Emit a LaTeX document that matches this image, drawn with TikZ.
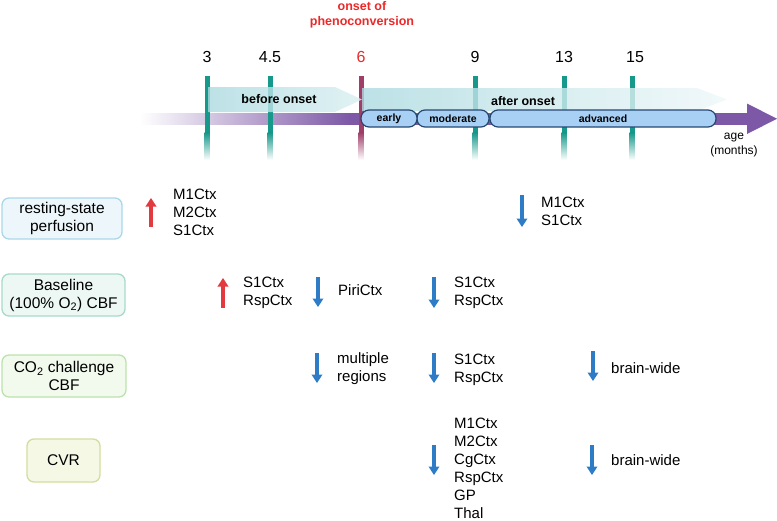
\documentclass[tikz,border=0pt]{standalone}
\usepackage{fontspec}
\setmainfont{Liberation Sans}
\usetikzlibrary{arrows.meta}

\definecolor{tickteal}{RGB}{22,152,138}
\definecolor{onsetred}{RGB}{236,40,40}
\definecolor{onsetmaroon}{RGB}{160,62,105}
\definecolor{bandteal}{RGB}{172,218,224}
\definecolor{agepurple}{RGB}{125,88,166}
\definecolor{pillblue}{RGB}{168,208,245}
\definecolor{pillnavy}{RGB}{38,72,112}
\definecolor{incred}{RGB}{226,58,62}
\definecolor{decblue}{RGB}{46,124,198}
\definecolor{restfill}{RGB}{237,247,251}
\definecolor{restline}{RGB}{170,216,232}
\definecolor{basefill}{RGB}{237,248,244}
\definecolor{baseline}{RGB}{168,218,200}
\definecolor{chalfill}{RGB}{242,249,237}
\definecolor{challine}{RGB}{188,226,172}
\definecolor{cvrfill}{RGB}{246,248,230}
\definecolor{cvrline}{RGB}{211,221,158}

\tikzset{
  rowbox/.style={draw, rounded corners=7pt, line width=1.3pt, align=center,
    inner sep=0pt, font=\fontsize{15.5}{18}\selectfont},
  regions/.style={anchor=west, align=left, inner sep=0pt, font=\fontsize{15}{18}\selectfont},
  pill/.style={draw=pillnavy, fill=pillblue, line width=1.2pt, rounded corners=8pt,
    minimum height=17pt, inner sep=0pt, font=\bfseries\fontsize{10.5}{12}\selectfont},
  incr/.style={incred, line width=3.2pt, -{Triangle[width=10.5pt,length=8.5pt]}},
  decr/.style={decblue, line width=3.2pt, -{Triangle[width=10.5pt,length=8.5pt]}},
  tickno/.style={font=\fontsize{16}{18}\selectfont}
}

\begin{document}
\begin{tikzpicture}[x=1pt, y=-1pt]
        \useasboundingbox (0,0) rectangle (777,520);

        % ----------------------------------------------------
        % asse dell'eta
        % ----------------------------------------------------
        \shade[left color=white, right color=agepurple] (140,113) rectangle (350,124.5);
        \fill[agepurple] (349,113) rectangle (748,124.5);
        \fill[agepurple] (747,103.5) -- (777,118.75) -- (747,134) -- cycle;

        % tacche
        \foreach \x/\c in {207/tickteal, 270/tickteal, 361/onsetmaroon, 475/tickteal, 564/tickteal, 632/tickteal} {
            \fill[\c] (\x-2.5,76) rectangle (\x+2.5,133);
            \shade[top color=\c, bottom color=white] (\x-2.5,132.5) rectangle (\x+2.5,160);
        }
        \foreach \x/\t [count=\i] in {207/3, 270/4.5, 475/9, 564/13, 635/15}
            \node[tickno] (month\i) at (\x,57) {\t};
        \node[tickno, onsetred] (month6) at (361,57) {6};
        \node[onsetred, align=center, font=\bfseries\fontsize{12.5}{14.5}\selectfont] (onset) at (362,15) {onset of\\phenoconversion};

        % fasce prima / dopo
        \shade[left color=bandteal, right color=bandteal!45, opacity=0.8]
            (208,87) -- (335,87) -- (362,99.5) -- (335,112) -- (208,112) -- cycle;
        \shade[left color=bandteal, right color=bandteal!20, opacity=0.8]
            (362,88) -- (697,88) -- (727,99.5) -- (697,111) -- (362,111) -- cycle;
        \node[font=\bfseries\fontsize{12.5}{14}\selectfont] (before) at (279,99) {before onset};
        \node[font=\bfseries\fontsize{12.5}{14}\selectfont] (after) at (523,101) {after onset};

        % stadi
        \node[pill, minimum width=226pt] (advanced) at (603,118.5) {advanced};
        \node[pill, minimum width=72pt] (moderate) at (453,118.5) {moderate};
        \node[pill, minimum width=56pt] (early) at (389,118.5) {early};

        \node[align=center, font=\fontsize{12}{15}\selectfont] (age) at (734,145) {age\\(months)};

        % ----------------------------------------------------
        % misure
        % ----------------------------------------------------
        \node[rowbox, draw=restline, fill=restfill, minimum width=120pt, minimum height=41pt] (rest) at (62,218.5) {resting-state\\perfusion};
        \node[rowbox, draw=baseline, fill=basefill, minimum width=123pt, minimum height=42pt] (base) at (63.5,295) {Baseline\\(100\% O\textsubscript{2}) CBF};
        \node[rowbox, draw=challine, fill=chalfill, minimum width=124pt, minimum height=42pt] (chal) at (64,376) {CO\textsubscript{2} challenge\\CBF};
        \node[rowbox, draw=cvrline, fill=cvrfill, minimum width=73pt, minimum height=43pt] (cvr) at (63.5,460.5) {CVR};

        % resting-state perfusion
        \draw[incr] (151,227) -- (151,198);
        \node[regions] (rest3) at (173,212) {M1Ctx\\M2Ctx\\S1Ctx};
        \draw[decr] (522,195) -- (522,227);
        \node[regions] (rest9) at (541,211) {M1Ctx\\S1Ctx};

        % baseline CBF
        \draw[incr] (223,308) -- (223,278);
        \node[regions] (base4) at (243,293) {S1Ctx\\RspCtx};
        \draw[decr] (318,277) -- (318,307);
        \node[regions] (base6) at (338,290) {PiriCtx};
        \draw[decr] (434,277) -- (434,308);
        \node[regions] (base9) at (454,293) {S1Ctx\\RspCtx};

        % CO2 challenge CBF
        \draw[decr] (317,353) -- (317,383);
        \node[regions] (chal6) at (337,369) {multiple\\regions};
        \draw[decr] (434,353) -- (434,383);
        \node[regions] (chal9) at (454,370) {S1Ctx\\RspCtx};
        \draw[decr] (593,351) -- (593,381);
        \node[regions] (chal13) at (611,368) {brain-wide};

        % CVR
        \draw[decr] (434,445) -- (434,475);
        \node[regions] (cvr9) at (454,468) {M1Ctx\\M2Ctx\\CgCtx\\RspCtx\\GP\\Thal};
        \draw[decr] (592,445) -- (592,475);
        \node[regions] (cvr13) at (611,460) {brain-wide};

    \end{tikzpicture}
\end{document}
